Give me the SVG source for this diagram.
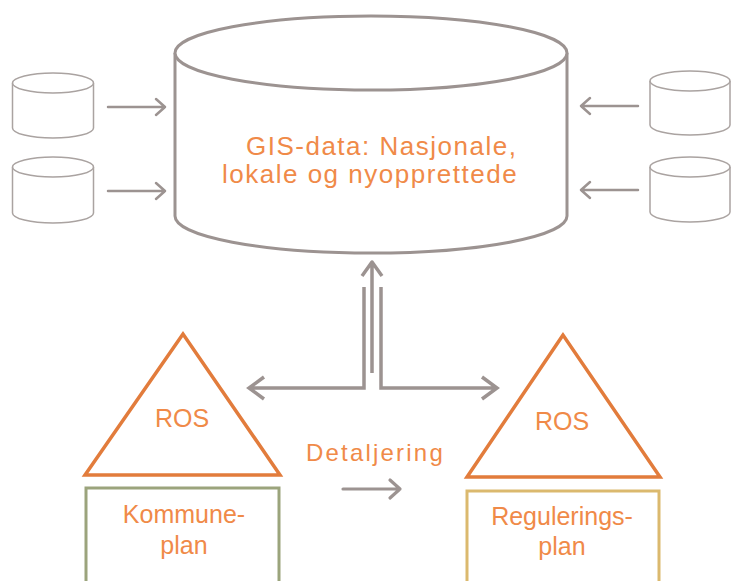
<svg xmlns="http://www.w3.org/2000/svg" width="731" height="581" viewBox="0 0 731 581">
<defs>
<style>
.cyl{fill:#fff;stroke:#aaa3a1;stroke-width:1.5}
.big{fill:#fff;stroke:#9c9391;stroke-width:3}
.arr{fill:none;stroke:#9c9391;stroke-width:2.5;stroke-linecap:round;stroke-linejoin:round}
.conn{fill:none;stroke:#9c9391;stroke-width:3.5}
.tri{fill:#fff;stroke:#e27c3c;stroke-width:3.5}
.lbl{font-family:"Liberation Sans",Arial,sans-serif;fill:#f08a48}
</style>
</defs>
<g id="gis">
<path class="big" d="M175,53 V216 A196,37 0 0 0 567,216 V53"/>
<ellipse class="big" cx="371" cy="53" rx="196" ry="37"/>
<text class="lbl" x="246" y="155" font-size="26" letter-spacing="1.5">GIS-data: Nasjonale,</text>
<text class="lbl" x="222" y="183" font-size="26" letter-spacing="1.5">lokale og nyopprettede</text>
</g>
<g id="src-l1">
<path class="cyl" d="M12.5,83 V128 A40.5,10 0 0 0 93.5,128 V83"/>
<ellipse class="cyl" cx="53" cy="83" rx="40.5" ry="10"/>
</g>
<g id="src-l2">
<path class="cyl" d="M12.5,167 V213 A40.5,10 0 0 0 93.5,213 V167"/>
<ellipse class="cyl" cx="53" cy="167" rx="40.5" ry="10"/>
</g>
<g id="src-r1">
<path class="cyl" d="M650,81 V125 A40,10 0 0 0 730,125 V81"/>
<ellipse class="cyl" cx="690" cy="81" rx="40" ry="10"/>
</g>
<g id="src-r2">
<path class="cyl" d="M650,167 V212 A40,10 0 0 0 730,212 V167"/>
<ellipse class="cyl" cx="690" cy="167" rx="40" ry="10"/>
</g>
<g id="ros-k">
<polygon class="tri" points="183,334 85,475 280,475"/>
<text class="lbl" x="182" y="427" font-size="25" text-anchor="middle">ROS</text>
</g>
<g id="kommuneplan">
<rect x="86" y="488" width="193" height="110" fill="#fff" stroke="#9ba47c" stroke-width="3"/>
<text class="lbl" x="184" y="523" font-size="25" text-anchor="middle">Kommune-</text>
<text class="lbl" x="184" y="554" font-size="25" text-anchor="middle">plan</text>
</g>
<g id="ros-r">
<polygon class="tri" points="563,335 467,477 660,477"/>
<text class="lbl" x="562" y="430" font-size="25" text-anchor="middle">ROS</text>
</g>
<g id="reguleringsplan">
<rect x="467" y="491" width="192" height="110" fill="#fff" stroke="#dbb96e" stroke-width="3"/>
<text class="lbl" x="562" y="525" font-size="25" text-anchor="middle">Regulerings-</text>
<text class="lbl" x="562" y="555" font-size="25" text-anchor="middle">plan</text>
</g>
<text class="lbl" x="306" y="461" font-size="24" letter-spacing="2.2">Detaljering</text>
<g id="connectors">
<path class="arr" d="M108,107 H165 M156,99 L165,107 L156,115"/>
<path class="arr" d="M108,191 H165 M156,183 L165,191 L156,199"/>
<path class="arr" d="M638,106 H581 M590,98 L581,106 L590,114"/>
<path class="arr" d="M638,190 H581 M590,182 L581,190 L590,198"/>
<path class="arr" d="M343,489 H400 M390,480 L400,489 L390,498" style="stroke-width:3.2"/>
<path class="conn" d="M372,373 V262 M362,276 L372,262 L382,276" stroke-linejoin="round"/>
<path class="conn" d="M364,287 V388 H249 M264,377 L249,388 L264,399"/>
<path class="conn" d="M381,287 V388 H497 M482,377 L497,388 L482,399"/>
</g>
</svg>
